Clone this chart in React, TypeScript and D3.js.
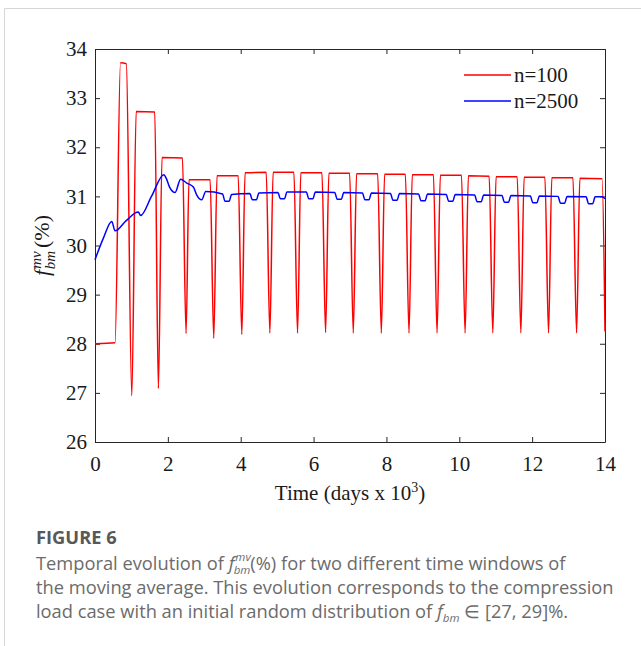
import React, { useEffect, useRef } from 'react';
import * as d3 from 'd3';

// time in days x 10^3, value of f_bm^mv in %
const n100: [number, number][] = [
  [0, 28.0], [0.55, 28.02], [0.7, 33.72], [0.86, 33.7], [1.01, 26.94],
  [1.13, 32.73], [1.64, 32.72], [1.74, 27.09], [1.84, 31.79], [2.4, 31.78],
  [2.5, 28.21], [2.58, 31.34], [3.16, 31.34], [3.26, 28.11], [3.35, 31.42],
  [3.93, 31.42], [4.03, 28.19], [4.12, 31.48], [4.7, 31.49], [4.8, 28.22],
  [4.89, 31.49], [5.46, 31.49], [5.56, 28.22], [5.65, 31.48], [6.23, 31.48],
  [6.33, 28.23], [6.42, 31.47], [6.99, 31.47], [7.09, 28.22], [7.18, 31.46],
  [7.76, 31.46], [7.86, 28.22], [7.95, 31.45], [8.52, 31.45], [8.62, 28.22],
  [8.71, 31.44], [9.29, 31.44], [9.39, 28.22], [9.48, 31.43], [10.06, 31.43],
  [10.16, 28.22], [10.25, 31.42], [10.82, 31.41], [10.92, 28.22], [11.01, 31.4],
  [11.59, 31.4], [11.69, 28.22], [11.78, 31.39], [12.35, 31.39], [12.45, 28.22],
  [12.54, 31.38], [13.12, 31.38], [13.22, 28.22], [13.31, 31.37], [13.92, 31.36],
  [14.0, 28.25],
];

const n2500: [number, number][] = [
  [0, 29.71], [0.23, 30.15], [0.46, 30.49], [0.55, 30.3], [0.85, 30.5],
  [1.19, 30.68], [1.25, 30.61], [1.55, 31.0], [1.89, 31.44], [1.96, 31.36],
  [2.04, 31.2], [2.2, 31.08], [2.35, 31.35], [2.52, 31.27], [2.7, 31.19],
  [2.79, 31.03], [2.93, 30.93], [3.04, 31.1], [3.5, 31.05],
  [3.57, 30.9], [3.68, 30.9], [3.75, 31.04], [4.25, 31.06],
  [4.32, 30.93], [4.43, 30.93], [4.5, 31.07], [5.02, 31.08],
  [5.09, 30.95], [5.2, 30.95], [5.27, 31.09], [5.8, 31.09],
  [5.87, 30.95], [5.98, 30.95], [6.05, 31.09], [6.58, 31.08],
  [6.65, 30.94], [6.76, 30.94], [6.83, 31.08], [7.34, 31.07],
  [7.41, 30.93], [7.52, 30.93], [7.59, 31.07], [8.11, 31.06],
  [8.18, 30.92], [8.29, 30.92], [8.36, 31.06], [8.88, 31.05],
  [8.95, 30.91], [9.06, 30.91], [9.13, 31.05], [9.64, 31.04],
  [9.71, 30.9], [9.82, 30.9], [9.89, 31.04], [10.42, 31.03],
  [10.49, 30.89], [10.6, 30.89], [10.67, 31.03], [11.17, 31.02],
  [11.24, 30.88], [11.35, 30.88], [11.42, 31.02], [11.95, 31.01],
  [12.02, 30.87], [12.13, 30.87], [12.2, 31.01], [12.71, 31.0],
  [12.78, 30.86], [12.89, 30.86], [12.96, 31.0], [13.48, 30.99],
  [13.55, 30.85], [13.66, 30.85], [13.73, 30.99], [13.92, 30.99],
  [14.0, 30.95],
];

const xTicks = [0, 2, 4, 6, 8, 10, 12, 14];
const yTicks = [26, 27, 28, 29, 30, 31, 32, 33, 34];
const seriesNames = ['n=100', 'n=2500'];
const seriesColors = ['#ff0000', '#0000ff'];
const captionRest = [
  'the moving average. This evolution corresponds to the compression',
];

const W = 641;
const H = 646;
const SERIF = '"Liberation Serif", "Times New Roman", serif';
const SANS = '"Open Sans", "Noto Sans", sans-serif';
const AXIS = '#262626';
const CAP_SIZE = 18.3;

export default function App() {
  const svgRef = useRef<SVGSVGElement>(null);

  useEffect(() => {
    const svg = d3.select(svgRef.current);
    svg.selectAll('*').remove();

    const margin = { top: 49, right: 36, bottom: 204, left: 95 };
    const width = W - margin.left - margin.right;
    const height = H - margin.top - margin.bottom;

    svg.append('rect').attr('width', W).attr('height', H).attr('fill', '#fff');

    // card border (left + top)
    svg.append('path')
      .attr('d', `M4.5,${H} V8.5 H${W}`)
      .attr('fill', 'none')
      .attr('stroke', '#d6d6d6')
      .attr('stroke-width', 1);

    const chart = svg.append('g')
      .attr('transform', `translate(${margin.left},${margin.top})`);

    const x = d3.scaleLinear().domain([0, 14]).range([0, width]);
    const y = d3.scaleLinear().domain([26, 34]).range([height, 0]);

    const styleAxis = (g: any, labels: boolean) => {
      g.attr('font-family', SERIF).attr('font-size', 21);
      g.select('.domain').attr('stroke', AXIS).attr('stroke-width', 1);
      g.selectAll('.tick line').attr('stroke', AXIS);
      if (labels) g.selectAll('.tick text').attr('fill', '#1a1a1a');
      else g.selectAll('.tick text').remove();
    };

    chart.append('g')
      .attr('transform', `translate(0,${height})`)
      .call(d3.axisBottom(x).tickValues(xTicks).tickSize(-5).tickSizeOuter(0).tickPadding(14).tickFormat(d3.format('d')))
      .call((g: any) => styleAxis(g, true));
    chart.append('g')
      .call(d3.axisTop(x).tickValues(xTicks).tickSize(-5).tickSizeOuter(0))
      .call((g: any) => styleAxis(g, false));
    chart.append('g')
      .call(d3.axisLeft(y).tickValues(yTicks).tickSize(-5).tickSizeOuter(0).tickPadding(8).tickFormat(d3.format('d')))
      .call((g: any) => styleAxis(g, true));
    chart.append('g')
      .attr('transform', `translate(${width},0)`)
      .call(d3.axisRight(y).tickValues(yTicks).tickSize(-5).tickSizeOuter(0))
      .call((g: any) => styleAxis(g, false));

    // lines
    const line = d3.line<[number, number]>()
      .x((d) => x(d[0]))
      .y((d) => y(d[1]))
      .curve(d3.curveMonotoneX);

    [n100, n2500].forEach((data, i) => {
      chart.append('path')
        .datum(data)
        .attr('fill', 'none')
        .attr('stroke', seriesColors[i])
        .attr('stroke-width', 1.5)
        .attr('stroke-linejoin', 'round')
        .attr('d', line);
    });

    // legend
    const legend = svg.append('g');
    seriesNames.forEach((name, i) => {
      const ly = 75 + i * 26;
      legend.append('line')
        .attr('x1', 464).attr('x2', 511)
        .attr('y1', ly).attr('y2', ly)
        .attr('stroke', seriesColors[i])
        .attr('stroke-width', 1.5);
      legend.append('text')
        .attr('x', 514).attr('y', ly + 7)
        .attr('font-family', SERIF).attr('font-size', 21)
        .attr('fill', '#1a1a1a')
        .text(name);
    });

    // x-axis label
    svg.append('text')
      .attr('x', margin.left + width / 2)
      .attr('y', 500)
      .attr('text-anchor', 'middle')
      .attr('font-family', SERIF).attr('font-size', 21)
      .attr('fill', '#1a1a1a')
      .call((t: any) => {
        t.append('tspan').text('Time (days x 10');
        t.append('tspan').attr('font-size', 14).attr('dy', -8).text('3');
        t.append('tspan').attr('dy', 8).text(')');
      });

    // y-axis label
    const yl = svg.append('text')
      .attr('transform', `translate(49,${margin.top + height / 2}) rotate(-90)`)
      .attr('text-anchor', 'middle')
      .attr('font-family', SERIF).attr('font-size', 22)
      .attr('fill', '#1a1a1a');
    yl.append('tspan').attr('font-style', 'italic').text('f');
    yl.append('tspan').attr('font-style', 'italic').attr('font-size', 15).attr('dy', -8).attr('dx', 1).text('mv');
    yl.append('tspan').attr('font-style', 'italic').attr('font-size', 15).attr('dy', 14).attr('dx', -18).text('bm');
    yl.append('tspan').attr('dy', -6).attr('dx', 3).text('(%)');

    // caption
    const cap = svg.append('g').attr('font-family', SANS);
    cap.append('text')
      .attr('x', 36).attr('y', 544)
      .attr('font-size', CAP_SIZE).attr('font-weight', 700)
      .attr('fill', '#585858')
      .text('FIGURE 6');
    const l1 = cap.append('text')
      .attr('x', 36).attr('y', 570)
      .attr('font-size', CAP_SIZE).attr('fill', '#6b6b6b');
    l1.append('tspan').text('Temporal evolution of ');
    l1.append('tspan').attr('font-style', 'italic').text('f');
    l1.append('tspan').attr('font-style', 'italic').attr('font-size', 11.5).attr('dy', -9).attr('dx', 1).text('mv');
    l1.append('tspan').attr('font-style', 'italic').attr('font-size', 11.5).attr('dy', 13).attr('dx', -17).text('bm');
    l1.append('tspan').attr('dy', -4).text('(%) for two different time windows of');
    cap.append('text')
      .attr('x', 36).attr('y', 594)
      .attr('font-size', CAP_SIZE).attr('fill', '#6b6b6b')
      .text(captionRest[0]);
    const l3 = cap.append('text')
      .attr('x', 36).attr('y', 618)
      .attr('font-size', CAP_SIZE).attr('fill', '#6b6b6b');
    l3.append('tspan').text('load case with an initial random distribution of ');
    l3.append('tspan').attr('font-style', 'italic').text('f');
    l3.append('tspan').attr('font-style', 'italic').attr('font-size', 11.5).attr('dy', 4).text('bm');
    l3.append('tspan').attr('dy', -4).text(' \u2208 [27, 29]%.');
  }, []);

  return (
    <svg
      ref={svgRef}
      width={W}
      height={H}
      style={{ position: 'absolute', left: 0, top: 0 }}
    />
  );
}
